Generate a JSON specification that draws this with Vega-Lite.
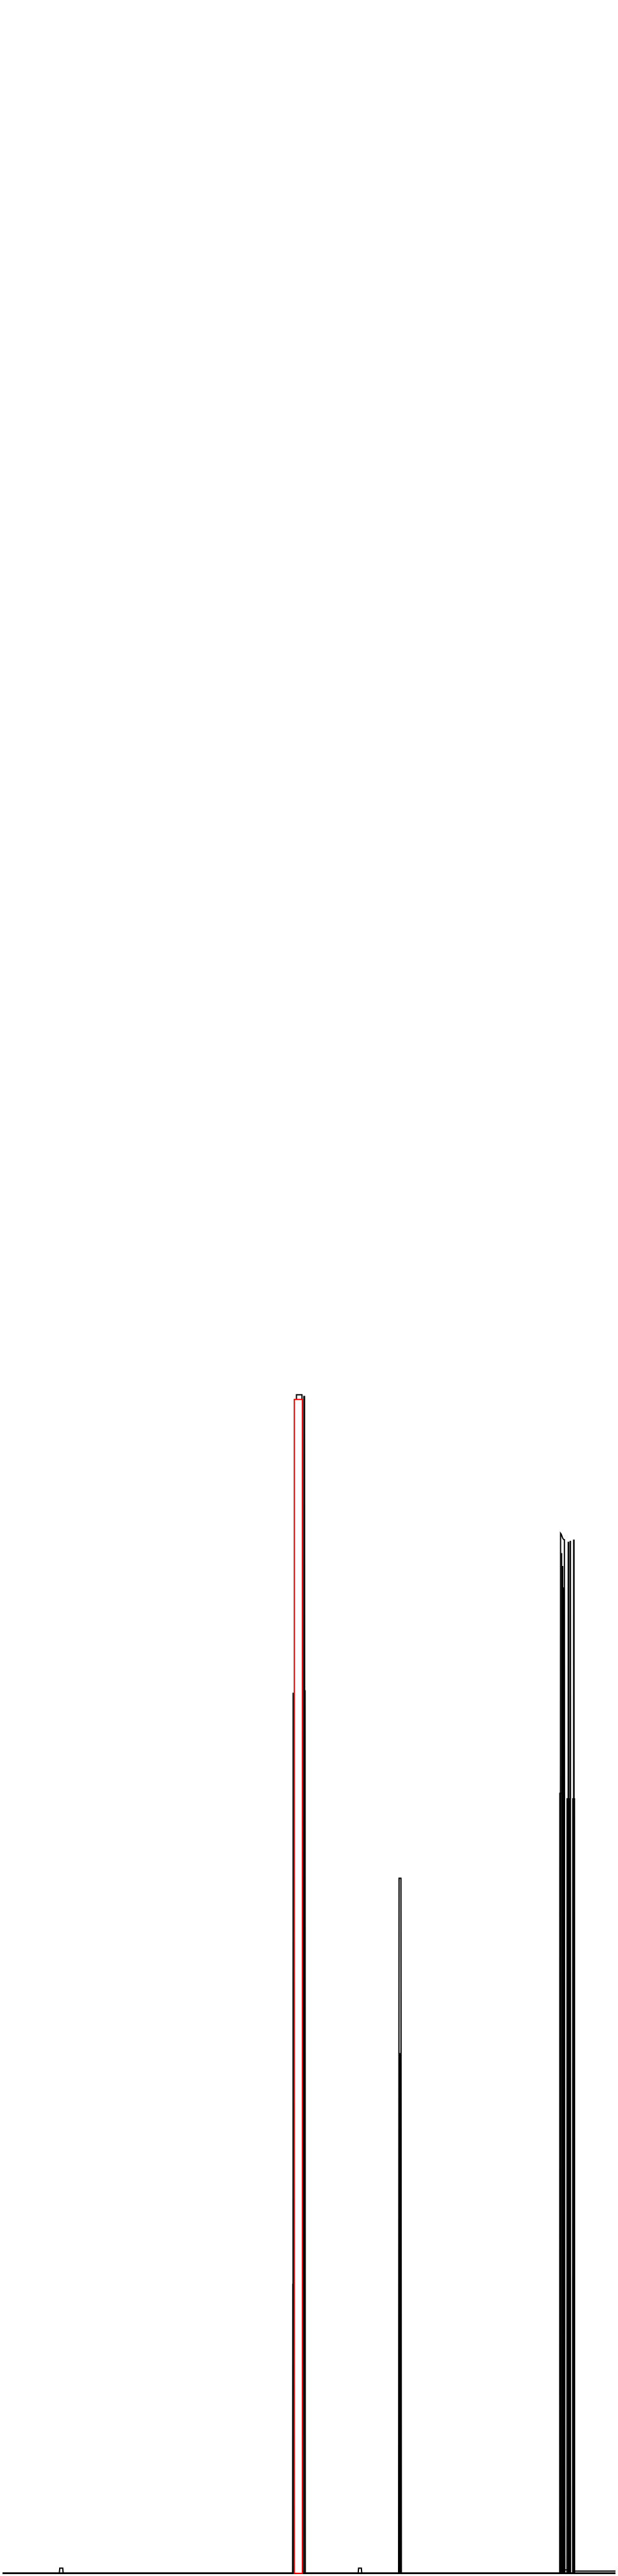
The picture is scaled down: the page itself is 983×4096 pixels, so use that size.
{
  "$schema": "https://vega.github.io/schema/vega-lite/v6.json",
  "autosize": {"type": "fit", "contains": "padding"},
  "width": 983,
  "height": 4096,
  "padding": 0,
  "background": "white",
  "config": {"view": {"stroke": null}},
  "datasets": {
    "lines": [
      {"s": "a", "x": 0, "y": 2}, {"s": "a", "x": 133.5, "y": 2}, {"s": "a", "x": 134.5, "y": 14}, {"s": "a", "x": 141.5, "y": 14}, {"s": "a", "x": 142.5, "y": 2},
      {"s": "a", "x": 689.5, "y": 2}, {"s": "a", "x": 690.5, "y": 2749}, {"s": "a", "x": 703.5, "y": 2749}, {"s": "a", "x": 704.5, "y": 2},
      {"s": "a", "x": 835.5, "y": 2}, {"s": "a", "x": 836.5, "y": 14}, {"s": "a", "x": 843, "y": 14}, {"s": "a", "x": 844, "y": 2},
      {"s": "a", "x": 930.5, "y": 2}, {"s": "a", "x": 931.5, "y": 1622}, {"s": "a", "x": 936, "y": 1622}, {"s": "a", "x": 937, "y": 2},
      {"s": "a", "x": 1310, "y": 2}, {"s": "a", "x": 1311, "y": 2426}, {"s": "a", "x": 1312.5, "y": 2424}, {"s": "a", "x": 1314, "y": 2420}, {"s": "a", "x": 1315.5, "y": 2416}, {"s": "a", "x": 1317, "y": 2413}, {"s": "a", "x": 1319, "y": 2411}, {"s": "a", "x": 1320, "y": 2411}, {"s": "a", "x": 1321, "y": 2},
      {"s": "a", "x": 1440, "y": 2},

      {"s": "b", "x": 0, "y": 2}, {"s": "b", "x": 707, "y": 2}, {"s": "b", "x": 708, "y": 2745}, {"s": "b", "x": 709.5, "y": 2745}, {"s": "b", "x": 710.5, "y": 2},
      {"s": "b", "x": 1313, "y": 2}, {"s": "b", "x": 1313.5, "y": 2380}, {"s": "b", "x": 1314, "y": 2},
      {"s": "b", "x": 1328.5, "y": 2}, {"s": "b", "x": 1329, "y": 2405}, {"s": "b", "x": 1330, "y": 2405}, {"s": "b", "x": 1330.5, "y": 2},
      {"s": "b", "x": 1440, "y": 2},

      {"s": "c", "x": 0, "y": 2}, {"s": "c", "x": 682.5, "y": 2}, {"s": "c", "x": 682.8, "y": 2053}, {"s": "c", "x": 683.2, "y": 2053}, {"s": "c", "x": 683.5, "y": 2},
      {"s": "c", "x": 1315.5, "y": 2}, {"s": "c", "x": 1316, "y": 2350}, {"s": "c", "x": 1316.5, "y": 2},
      {"s": "c", "x": 1333.5, "y": 2}, {"s": "c", "x": 1333.8, "y": 2407}, {"s": "c", "x": 1334.2, "y": 2407}, {"s": "c", "x": 1334.5, "y": 2},
      {"s": "c", "x": 1440, "y": 2},

      {"s": "d", "x": 0, "y": 2}, {"s": "d", "x": 710, "y": 2}, {"s": "d", "x": 710.3, "y": 2059}, {"s": "d", "x": 710.8, "y": 2059}, {"s": "d", "x": 711.2, "y": 2},
      {"s": "d", "x": 1318, "y": 2}, {"s": "d", "x": 1318.5, "y": 2300}, {"s": "d", "x": 1319, "y": 2},
      {"s": "d", "x": 1341.5, "y": 2}, {"s": "d", "x": 1341.8, "y": 2410}, {"s": "d", "x": 1342.6, "y": 2410}, {"s": "d", "x": 1343, "y": 7},
      {"s": "d", "x": 1440, "y": 7},

      {"s": "e", "x": 0, "y": 2}, {"s": "e", "x": 681.5, "y": 2}, {"s": "e", "x": 682, "y": 677}, {"s": "e", "x": 682.5, "y": 2},
      {"s": "e", "x": 932, "y": 2}, {"s": "e", "x": 932.5, "y": 1213}, {"s": "e", "x": 934.5, "y": 1213}, {"s": "e", "x": 935, "y": 2},
      {"s": "e", "x": 1309, "y": 2}, {"s": "e", "x": 1309.3, "y": 1820}, {"s": "e", "x": 1319.7, "y": 1820}, {"s": "e", "x": 1320, "y": 2},
      {"s": "e", "x": 1326, "y": 2}, {"s": "e", "x": 1326.3, "y": 1807}, {"s": "e", "x": 1330.7, "y": 1807}, {"s": "e", "x": 1331, "y": 2},
      {"s": "e", "x": 1339.5, "y": 2}, {"s": "e", "x": 1339.8, "y": 1807}, {"s": "e", "x": 1343.7, "y": 1807}, {"s": "e", "x": 1344, "y": 2},
      {"s": "e", "x": 1440, "y": 2},

      {"s": "f", "x": 0, "y": 2}, {"s": "f", "x": 1313, "y": 2}, {"s": "f", "x": 1314, "y": 10}, {"s": "f", "x": 1329, "y": 10}, {"s": "f", "x": 1330, "y": 2}, {"s": "f", "x": 1440, "y": 2}
    ],
    "box": [
      {"x0": 685.5, "x1": 704.5, "y0": 2, "y1": 2738}
    ]
  },
  "layer": [
    {
      "data": {"name": "lines"},
      "mark": {"type": "line", "color": "black", "strokeWidth": 2, "clip": false},
      "encoding": {
        "x": {"field": "x", "type": "quantitative", "scale": {"domain": [0, 1440], "nice": false, "zero": false}, "axis": null},
        "y": {"field": "y", "type": "quantitative", "scale": {"domain": [0, 6000], "nice": false}, "axis": null},
        "detail": {"field": "s", "type": "nominal"},
        "order": {"field": "x", "type": "quantitative"}
      }
    },
    {
      "data": {"name": "box"},
      "mark": {"type": "rect", "stroke": "#ff0000", "strokeWidth": 2, "fill": "white", "clip": false},
      "encoding": {
        "x": {"field": "x0", "type": "quantitative"},
        "x2": {"field": "x1"},
        "y": {"field": "y0", "type": "quantitative"},
        "y2": {"field": "y1"}
      }
    }
  ]
}
